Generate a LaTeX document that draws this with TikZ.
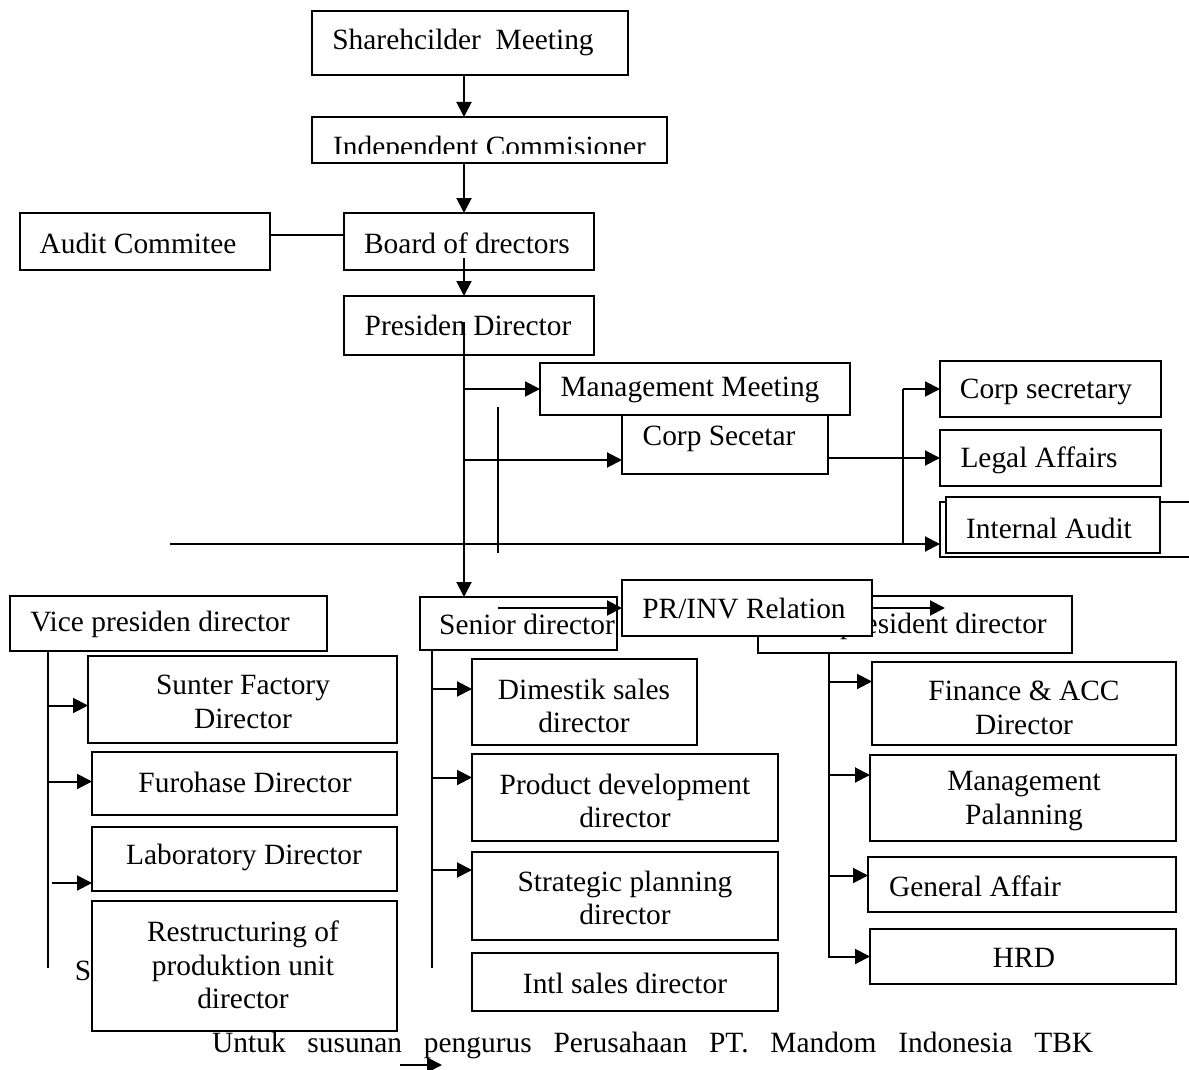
\documentclass[tikz,border=0pt]{standalone}
\usepackage{fontspec}
\setmainfont{Liberation Serif}
\usetikzlibrary{arrows.meta}
\newcommand\bx[5]{\node[box, minimum width={#4-#2}, minimum height={#5-#3}] (#1) at ({(#2+#4)/2},{(#3+#5)/2}) {};}
\begin{document}
\begin{tikzpicture}[x=1pt,y=-1pt,
  box/.style={draw, line width=1.9pt, fill=white, inner sep=0pt, outer sep=0pt},
  txt/.style={inner sep=0pt, font=\fontsize{29.4}{33.5}\selectfont, align=center},
  ln/.style={line width=2pt},
  arr/.style={line width=2pt, -{Triangle[length=15pt,width=15pt]}}]
\useasboundingbox (0,0) rectangle (1189,1070);
\clip (0,0) rectangle (1189,1070);
\fill[white] (0,0) rectangle (1189,1070);

% ---- boxes and texts ----
\bx{share}{312}{11}{628}{75}
\node[txt] (tshare) at (463,42) {Sharehcilder\ \ Meeting};
\bx{indep}{312}{117}{667}{163}
\begin{scope}
\clip (312,117) rectangle (667,154);
\node[txt, anchor=base west] (tindep) at (333,157) {Independent Commisioner};
\end{scope}
\bx{audit}{20}{213}{270}{270}
\node[txt] (taudit) at (138,243) {Audit Commitee};
\bx{board}{344}{213}{594}{270}
\node[txt] (tboard) at (467,243) {Board of drectors};
\bx{presd}{344}{296}{594}{355}
\node[txt] (tpresd) at (468,325) {Presiden Director};
\bx{corpsec}{622}{405}{828}{474}
\node[txt] (tcorpsec) at (719,439) {Corp Secetar};
\bx{mgmt}{540}{363}{850}{415}
\node[txt] (tmgmt) at (690,390) {Management Meeting};
\bx{corpsecr}{940}{361}{1161}{417}
\node[txt] (tcorpsecr) at (1046,392) {Corp secretary};
\bx{legal}{940}{430}{1161}{486}
\node[txt] (tlegal) at (1039,460) {Legal Affairs};
\bx{iaback}{940}{502}{1210}{557}
\bx{iafront}{946}{497}{1160}{553}
\node[txt] (tia) at (1049,528) {Internal Audit};
\bx{senior}{420}{597}{617}{650}
\node[txt] (tsenior) at (527,624) {Senior director};
\bx{vpd}{758}{596}{1072}{653}
\node[txt, anchor=west] (tvpd) at (840,626) {president director};
\bx{pr}{622}{580}{872}{636}
\node[txt] (tpr) at (744,609) {PR/INV Relation};
\bx{vice}{10}{596}{327}{651}
\node[txt] (tvice) at (160,624) {Vice presiden director};
\bx{sunter}{88}{656}{397}{743}
\node[txt] (tsunter) at (243,702) {Sunter Factory\\Director};
\bx{furo}{92}{752}{397}{815}
\node[txt] (tfuro) at (245,782) {Furohase Director};
\bx{lab}{92}{827}{397}{891}
\node[txt] (tlab) at (244,857) {Laboratory Director};
\bx{restr}{92}{901}{397}{1031}
\node[txt] (trestr) at (243,965) {Restructuring of\\produktion unit\\director};
\node[txt] (tS) at (83,971) {S};
\bx{dim}{472}{659}{697}{745}
\node[txt] (tdim) at (584,706) {Dimestik sales\\director};
\bx{prod}{472}{754}{778}{841}
\node[txt] (tprod) at (625,801) {Product development\\director};
\bx{strat}{472}{852}{778}{940}
\node[txt] (tstrat) at (625,898) {Strategic planning\\director};
\bx{intl}{472}{953}{778}{1011}
\node[txt] (tintl) at (625,983) {Intl sales director};
\bx{fin}{872}{662}{1176}{745}
\node[txt] (tfin) at (1024,708) {Finance \& ACC\\Director};
\bx{mplan}{870}{755}{1176}{841}
\node[txt] (tmplan) at (1024,801) {Management\\Palanning};
\bx{gen}{868}{857}{1176}{912}
\node[txt] (tgen) at (975,886) {General Affair};
\bx{hrd}{870}{929}{1176}{984}
\node[txt] (thrd) at (1024,958) {HRD};
\node[txt, anchor=base west] (tbottom) at (212,1052) {\hbox to 881pt{Untuk\hfill susunan\hfill pengurus\hfill Perusahaan\hfill PT.\hfill Mandom\hfill Indonesia\hfill TBK}};

% ---- helper coordinates ----
\coordinate (mx) at (464,0);
\coordinate (v2top) at (498,407);
\coordinate (v2bot) at (498,553);
\coordinate (hl) at (170,544);
\coordinate (bx) at (903,0);
\coordinate (iaarr) at (940,544);
\coordinate (prarr1) at (498,0);
\coordinate (prarr2) at (945,0);
\coordinate (vx) at (48,0);
\coordinate (vend) at (48,968);
\coordinate (sx) at (432,0);
\coordinate (send) at (432,968);
\coordinate (px) at (829,0);
\coordinate (botA) at (400,1065);
\coordinate (botB) at (442,1065);

% ---- connectors ----
\draw[arr] (share.south -| mx) -- (indep.north -| mx);
\draw[arr] (indep.south -| mx) -- (board.north -| mx);
\draw[ln] ([yshift=6.5pt]audit.east) -- ([yshift=6.5pt]board.west);
\draw[arr] ([yshift=12pt]board.south -| mx) -- (presd.north -| mx);
\draw[arr] ([yshift=3.5pt]presd.center -| mx) -- (senior.north -| mx);
\draw[arr] (mgmt.west -| mx) -- (mgmt.west);
\draw[arr] ([yshift=-20.5pt]corpsec.west -| mx) -- ([yshift=-20.5pt]corpsec.west);
\draw[ln] (v2top) -- (v2bot);
\draw[ln] (hl) -- (hl -| bx);
\draw[arr] (corpsec.east |- legal.west) -- (legal.west);
\draw[arr] (corpsecr.west -| bx) -- (corpsecr.west);
\draw[arr] (corpsecr.west -| bx) -- (bx |- iaarr) -- (iaarr);
\draw[arr] (pr.west -| prarr1) -- (pr.west);
\draw[arr] (pr.east) -- (pr.east -| prarr2);
% vice president branch
\draw[ln] (vice.south -| vx) -- (vend);
\draw[arr] ([yshift=-6pt]sunter.west -| vx) -- ([yshift=-6pt]sunter.west);
\draw[arr] ([yshift=2pt]furo.west -| vx) -- ([yshift=2pt]furo.west);
\draw[arr] ([yshift=-24pt,xshift=-40pt]lab.west) -- ([yshift=-24pt]lab.west);
% senior branch
\draw[ln] (senior.south -| sx) -- (send);
\draw[arr] ([yshift=13pt]dim.west -| sx) -- ([yshift=13pt]dim.west);
\draw[arr] ([yshift=20pt]prod.west -| sx) -- ([yshift=20pt]prod.west);
\draw[arr] ([yshift=26pt]strat.west -| sx) -- ([yshift=26pt]strat.west);
% president director branch
\draw[arr] (vpd.south -| px) -- (hrd.west -| px) -- (hrd.west);
\draw[arr] ([yshift=22pt]fin.west -| px) -- ([yshift=22pt]fin.west);
\draw[arr] ([yshift=23pt]mplan.west -| px) -- ([yshift=23pt]mplan.west);
\draw[arr] ([yshift=9pt]gen.west -| px) -- ([yshift=9pt]gen.west);
% stray arrow at the bottom
\draw[arr] (botA) -- (botB);
\end{tikzpicture}
\end{document}
